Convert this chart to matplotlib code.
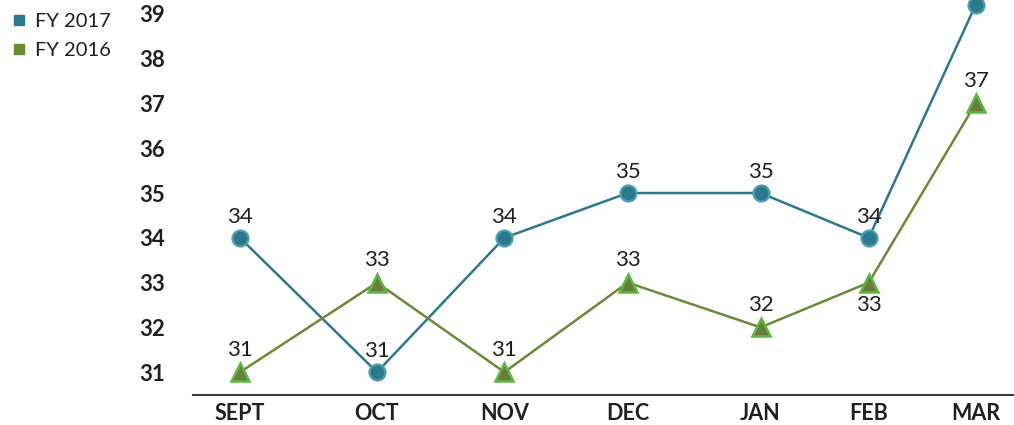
import matplotlib
matplotlib.use("Agg")
import matplotlib.pyplot as plt
from matplotlib.lines import Line2D

months = ["SEPT", "OCT", "NOV", "DEC", "JAN", "FEB", "MAR"]
fy2017 = [34, 31, 34, 35, 35, 34, 39.2]
fy2016 = [31, 33, 31, 33, 32, 33, 37]
yticks = [31, 32, 33, 34, 35, 36, 37, 38, 39]

# horizontal layout of the month slots as drawn in the reference
month_pos = [0, 1.0, 1.93, 2.83, 3.80, 4.59, 5.37]

teal = "#2b7a8c"
teal_edge = "#4aa0b5"
green = "#6a8a34"
green_face = "#6b7d3a"
green_edge = "#5cb844"
text_c = "#231f20"

plt.rcParams['font.family'] = ['Lato', 'DejaVu Sans']

fig = plt.figure(figsize=(10.14, 4.25), dpi=100)
ax = fig.add_axes([193/1014, 30/425, 1 - 193/1014, 395/425])

ax.plot(month_pos, fy2017, color=teal, lw=1.8, marker='o', ms=11.5,
        mfc=teal, mec=teal_edge, mew=1.6, zorder=3, clip_on=False)
ax.plot(month_pos, fy2016, color=green, lw=1.8, marker='^', ms=13.5,
        mfc=green_face, mec=green_edge, mew=1.8, zorder=3, clip_on=False)

for i, (x, v) in enumerate(zip(month_pos, fy2017)):
    if months[i] == "MAR":
        continue  # label lies above the visible frame in the reference
    ax.annotate(f"{v:.0f}", (x, v), xytext=(0, 8), textcoords='offset points',
                ha='center', va='bottom', fontsize=16, color=text_c)
for i, (x, v) in enumerate(zip(month_pos, fy2016)):
    if months[i] == "FEB":
        ax.annotate(f"{v:.0f}", (x, v), xytext=(0, -9), textcoords='offset points',
                    ha='center', va='top', fontsize=16, color=text_c)
    else:
        ax.annotate(f"{v:.0f}", (x, v), xytext=(0, 9), textcoords='offset points',
                    ha='center', va='bottom', fontsize=16, color=text_c)

ax.set_xlim(-0.343, 5.65)
ax.set_ylim(30.49, 39.31)
ax.set_xticks(month_pos)
ax.set_xticklabels(months, fontsize=15.5, fontweight='bold', color=text_c)
ax.set_yticks(yticks)
ax.set_yticklabels([str(t) for t in yticks], fontsize=16, fontweight='bold', color=text_c)
ax.tick_params(axis='both', length=0)
ax.tick_params(axis='y', pad=20)
ax.tick_params(axis='x', pad=6)

for s in ['top', 'right', 'left']:
    ax.spines[s].set_visible(False)
ax.spines['bottom'].set_color('#3a3a3a')
ax.spines['bottom'].set_linewidth(1.5)

handles = [Line2D([], [], ls='none', marker='s', ms=7, mfc=teal, mec=teal),
           Line2D([], [], ls='none', marker='s', ms=7, mfc=green, mec=green)]
fig.legend(handles, ["FY 2017", "FY 2016"], loc='upper left',
           bbox_to_anchor=(0.0, 1.0), frameon=False, fontsize=14.5,
           handlelength=0.6, handletextpad=0.5, labelspacing=0.6,
           borderaxespad=0.25, labelcolor=text_c)

fig.savefig("out.png", dpi=100)
